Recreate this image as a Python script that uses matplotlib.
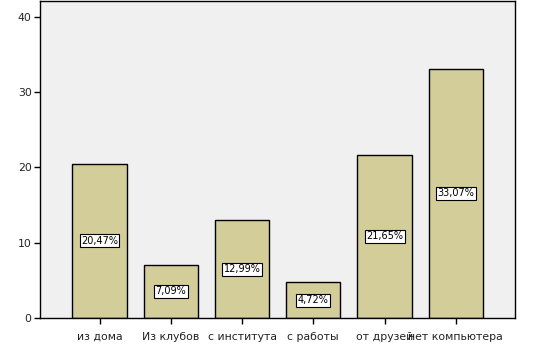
import matplotlib
matplotlib.use("Agg")
import matplotlib.pyplot as plt

categories = ["из дома", "Из клубов", "с института", "с работы", "от друзей", "нет компьютера"]
values = [20.47, 7.09, 12.99, 4.72, 21.65, 33.07]
labels = ["20,47%", "7,09%", "12,99%", "4,72%", "21,65%", "33,07%"]
yticks = [0, 10, 20, 30, 40]

fig = plt.figure(figsize=(5.4, 3.54), dpi=100)
ax = fig.add_axes([40/540, 36/354, 475/540, 317/354])
ax.set_facecolor("#f0f0f0")
x = list(range(len(categories)))
ax.bar(x, values, width=0.76, color="#d3cd99", edgecolor="black", linewidth=1.0, zorder=2)
for xi, v, lab in zip(x, values, labels):
    ax.text(xi, v / 2, lab, ha="center", va="center", fontsize=7,
            bbox=dict(boxstyle="square,pad=0.15", facecolor="white", edgecolor="black", linewidth=0.8),
            zorder=3)
ax.set_xlim(-0.835, 5.83)
ax.set_ylim(0, 42.1)
ax.set_yticks(yticks)
ax.set_xticks(x)
ax.set_xticklabels(categories)
ax.tick_params(axis="both", labelsize=7.8, length=4, width=1, colors="black", labelcolor="#222222")
ax.tick_params(axis="x", pad=11.5)
ax.tick_params(axis="y", pad=2)
for lab in ax.get_xticklabels():
    lab.set_verticalalignment("baseline")
for s in ax.spines.values():
    s.set_linewidth(1.0)
fig.savefig("out.png", dpi=100, facecolor="white")
